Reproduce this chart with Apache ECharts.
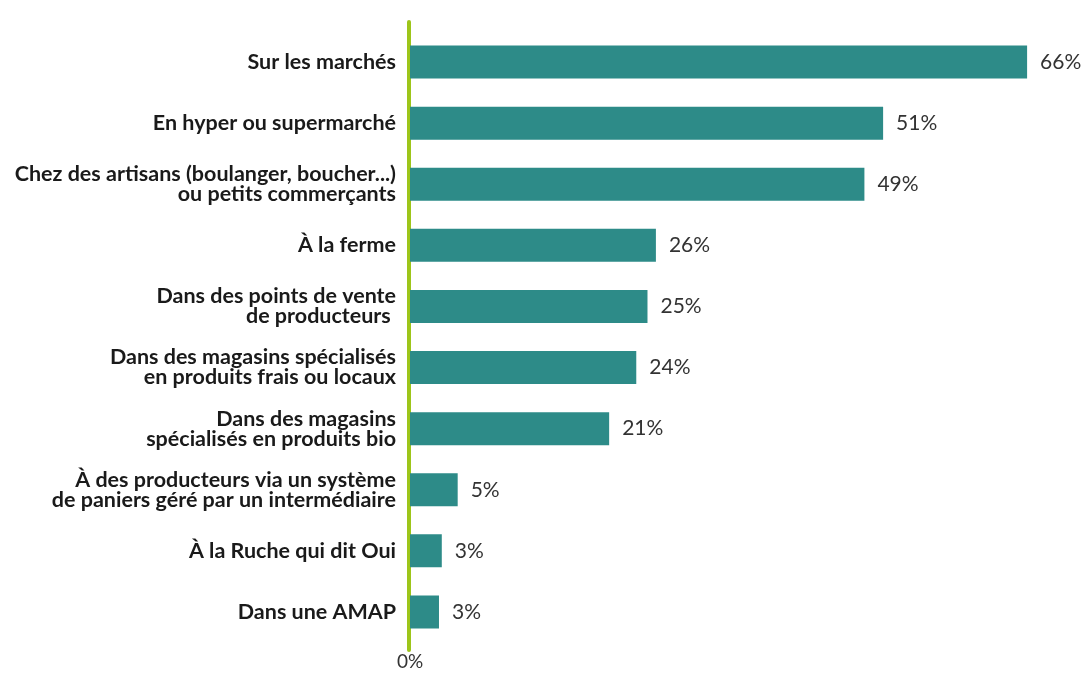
<!DOCTYPE html>
<html><head><meta charset="utf-8">
<script src="https://cdn.jsdelivr.net/npm/echarts@6/dist/echarts.min.js"></script>
<style>html,body{margin:0;padding:0;background:#fff}#c{width:1086px;height:675px}</style>
</head><body><div id="c"></div>
<script>
const categories = [
  "Sur les marchés",
  "En hyper ou supermarché",
  "Chez des artisans (boulanger, boucher...)\nou petits commerçants",
  "À la ferme",
  "Dans des points de vente\nde producteurs ",
  "Dans des magasins spécialisés\nen produits frais ou locaux",
  "Dans des magasins\nspécialisés en produits bio",
  "À des producteurs via un système\nde paniers géré par un intermédiaire",
  "À la Ruche qui dit Oui",
  "Dans une AMAP"
];
const values = [66, 51, 49, 26, 25, 24, 21, 5, 3, 3];
const barLengths = [66, 50.6, 48.6, 26.3, 25.4, 24.2, 21.3, 5.1, 3.4, 3.1];
const tickLabels = ['0%'];

const chart = echarts.init(document.getElementById('c'), null, {renderer: 'canvas'});
chart.setOption({
  animation: false,
  textStyle: {fontFamily: 'Lato'},
  grid: [
    {left: 410, right: 21.5, top: 31.5, bottom: 32.5, containLabel: false},
    {left: 408.5, width: 10, top: 22, bottom: 25}
  ],
  xAxis: [
    {type: 'value', gridIndex: 0, min: 0, max: 70, splitLine: {show: false},
     axisLine: {show: false}, axisTick: {show: false},
     axisLabel: {formatter: v => v === 0 ? tickLabels[0] : '', margin: 10, fontSize: 19, color: '#333', fontFamily: 'Lato'}},
    {type: 'value', gridIndex: 1, show: false, min: 0, max: 1}
  ],
  yAxis: [
    {type: 'category', gridIndex: 0, data: categories, inverse: true,
     axisLine: {show: false}, axisTick: {show: false},
     axisLabel: {fontSize: 21.5, fontWeight: 'bold', color: '#1a1a1a', margin: 14, lineHeight: 20, fontFamily: 'Lato', align: 'right'}},
    {type: 'category', gridIndex: 1, data: categories, inverse: true,
     axisLine: {show: true, lineStyle: {color: '#9dc51a', width: 4}}, axisTick: {show: false}, axisLabel: {show: false}}
  ],
  series: [
    {type: 'bar', xAxisIndex: 0, yAxisIndex: 0, barWidth: 33,
     data: barLengths.map((v, i) => ({value: v, label: {formatter: values[i] + '%'}})),
     itemStyle: {color: '#2d8b88'},
     label: {show: true, position: 'right', distance: 13, fontSize: 21, color: '#333', fontFamily: 'Lato'}},
    {type: 'bar', xAxisIndex: 1, yAxisIndex: 1, data: [], silent: true}
  ]
});
</script></body></html>
